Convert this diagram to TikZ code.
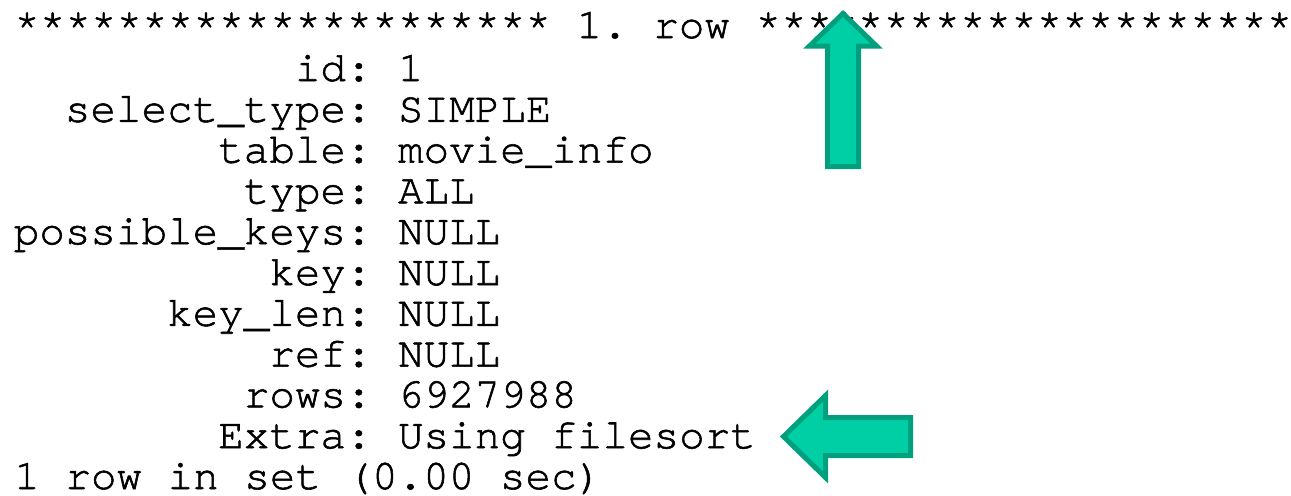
\documentclass[tikz,border=0pt]{standalone}
\usepackage{fontspec}
\setmonofont[Ligatures=NoCommon,FakeBold=1.3]{TeX Gyre Cursor}
\usepackage{xcolor}
\definecolor{arrowfill}{RGB}{0,207,165}
\definecolor{arrowline}{RGB}{0,160,126}

\begin{document}
\begin{tikzpicture}[x=0.5pt,y=-0.5pt,
    mono/.style={font=\ttfamily\fontsize{21.3}{20.5}\selectfont, inner sep=0pt},
    field/.style={mono, anchor=base east},
    value/.style={mono, anchor=base west},
    hint/.style={draw=arrowline, fill=arrowfill, line width=2.5pt, line join=miter}]
    \useasboundingbox (0,0) rectangle (1291,495);

    % header line
    \node[value] (head) at (13.9,38) {*********************~1.~row~*********************};

    % one line per column of the plan: name right aligned at the colon, value after it
    \foreach \k/\v [count=\i] in {id/1, select\_type/SIMPLE, table/movie\_info, type/ALL,
        possible\_keys/NULL, key/NULL, key\_len/NULL, ref/NULL, rows/6927988,
        Extra/Using filesort} {
        \node[field] (k\i) at (372,40.2+40.8*\i) {\k:};
        \node[value] (v\i) at (397.6,40.2+40.8*\i) {\v};
    }

    % footer line
    \node[value] (foot) at (13.9,489) {1 row in set (0.00 sec)};

    % arrow up at the row header
    \draw[hint] (843,13.5) -- (876.5,46) -- (858.5,46) -- (858.5,166.5)
        -- (827.5,166.5) -- (827.5,46) -- (809.5,46) -- cycle;

    % arrow left at Using filesort
    \draw[hint] (783.5,436.5) -- (825.5,395.5) -- (825.5,417.5) -- (910.5,417.5)
        -- (910.5,455.5) -- (825.5,455.5) -- (825.5,477.5) -- cycle;
\end{tikzpicture}
\end{document}
